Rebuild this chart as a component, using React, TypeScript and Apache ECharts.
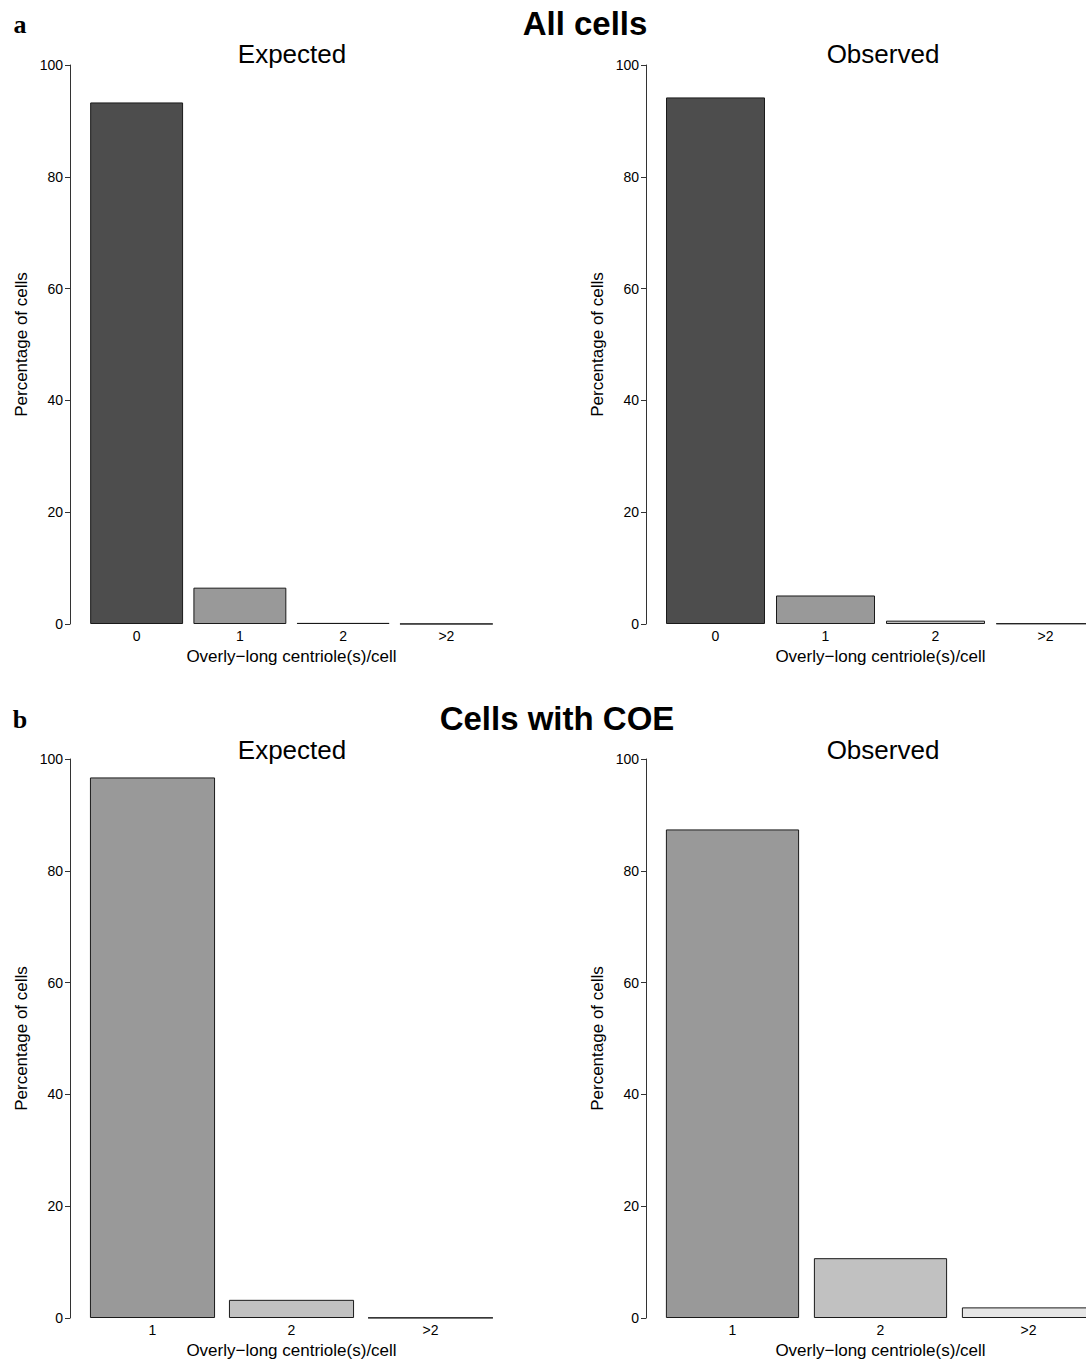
import React, { useEffect, useRef } from "react";
import * as echarts from "echarts";

const topCategories = ["0", "1", "2", ">2"];
const bottomCategories = ["1", "2", ">2"];
const allCellsExpected = [93.3, 6.5, 0.2, 0.02];
const allCellsObserved = [94.2, 5.1, 0.6, 0.1];
const coeExpected = [96.7, 3.25, 0.05];
const coeObserved = [87.4, 10.7, 1.9];
const yTicks = [0, 20, 40, 60, 80, 100];

const categoryColor: Record<string, string> = {
  "0": "#4D4D4D",
  "1": "#999999",
  "2": "#C1C1C1",
  ">2": "#E6E6E6",
};

const SANS = "'Liberation Sans', Arial, Helvetica, sans-serif";

export default function App() {
  const ref = useRef<HTMLDivElement>(null);

  useEffect(() => {
    if (!ref.current) return;
    const chart = echarts.init(ref.current, undefined, { renderer: "svg" });

    const panels = [
      { cats: topCategories, vals: allCellsExpected, left: 85, width: 413, top: 65, axisOffset: 15 },
      { cats: topCategories, vals: allCellsObserved, left: 660.5, width: 440, top: 65, axisOffset: 14.5 },
      { cats: bottomCategories, vals: coeExpected, left: 83, width: 417, top: 759, axisOffset: 13 },
      { cats: bottomCategories, vals: coeObserved, left: 658.5, width: 444, top: 759, axisOffset: 12.5 },
    ];

    const grids = panels.map((p) => ({
      left: p.left,
      width: p.width,
      top: p.top,
      height: 559,
      containLabel: false,
    }));

    const xAxes = panels.map((p, i) => ({
      type: "category",
      gridIndex: i,
      data: p.cats,
      axisLine: { show: false },
      axisTick: { show: false },
      axisLabel: { color: "#000", fontSize: 14, fontFamily: SANS, margin: 5 },
      name: "Overly\u2212long centriole(s)/cell",
      nameLocation: "middle",
      nameGap: 24,
      nameTextStyle: { color: "#000", fontSize: 17, fontFamily: SANS },
    }));

    const yAxes = panels.map((p, i) => ({
      type: "value",
      gridIndex: i,
      min: yTicks[0],
      max: yTicks[yTicks.length - 1],
      interval: 20,
      offset: p.axisOffset,
      splitLine: { show: false },
      axisLine: { show: true, lineStyle: { color: "#333", width: 1 } },
      axisTick: { show: true, length: 5, lineStyle: { color: "#333" } },
      axisLabel: { color: "#000", fontSize: 14, fontFamily: SANS, margin: 7 },
      name: "Percentage of cells",
      nameLocation: "middle",
      nameGap: 40,
      nameTextStyle: { color: "#000", fontSize: 17, fontFamily: SANS },
    }));

    const series = panels.map((p, i) => ({
      type: "bar",
      xAxisIndex: i,
      yAxisIndex: i,
      barCategoryGap: "10%",
      data: p.vals.map((v, j) => ({
        value: v,
        itemStyle: {
          color: categoryColor[p.cats[j]],
          borderColor: "#1a1a1a",
          borderWidth: 1,
        },
      })),
    }));

    const text = (t: string, x: number, y: number, font: string) => ({
      type: "text",
      x,
      y,
      style: { text: t, font, fill: "#000", textAlign: "center", textVerticalAlign: "middle" },
    });

    chart.setOption({
      animation: false,
      backgroundColor: "#fff",
      grid: grids,
      xAxis: xAxes,
      yAxis: yAxes,
      series,
      graphic: [
        text("a", 20, 24, `bold 26px 'Liberation Serif', 'Times New Roman', serif`),
        text("b", 20, 719, `bold 26px 'Liberation Serif', 'Times New Roman', serif`),
        text("All cells", 585, 23, `bold 33px ${SANS}`),
        text("Cells with COE", 557, 718, `bold 33px ${SANS}`),
        text("Expected", 292, 54, `26px ${SANS}`),
        text("Observed", 883, 54, `26px ${SANS}`),
        text("Expected", 292, 750, `26px ${SANS}`),
        text("Observed", 883, 750, `26px ${SANS}`),
      ],
    });

    return () => chart.dispose();
  }, []);

  return (
    <div
      style={{ position: "absolute", left: 0, top: 0, width: 1086, height: 1360, overflow: "hidden" }}
    >
      <div ref={ref} style={{ width: 1130, height: 1360 }} />
    </div>
  );
}
